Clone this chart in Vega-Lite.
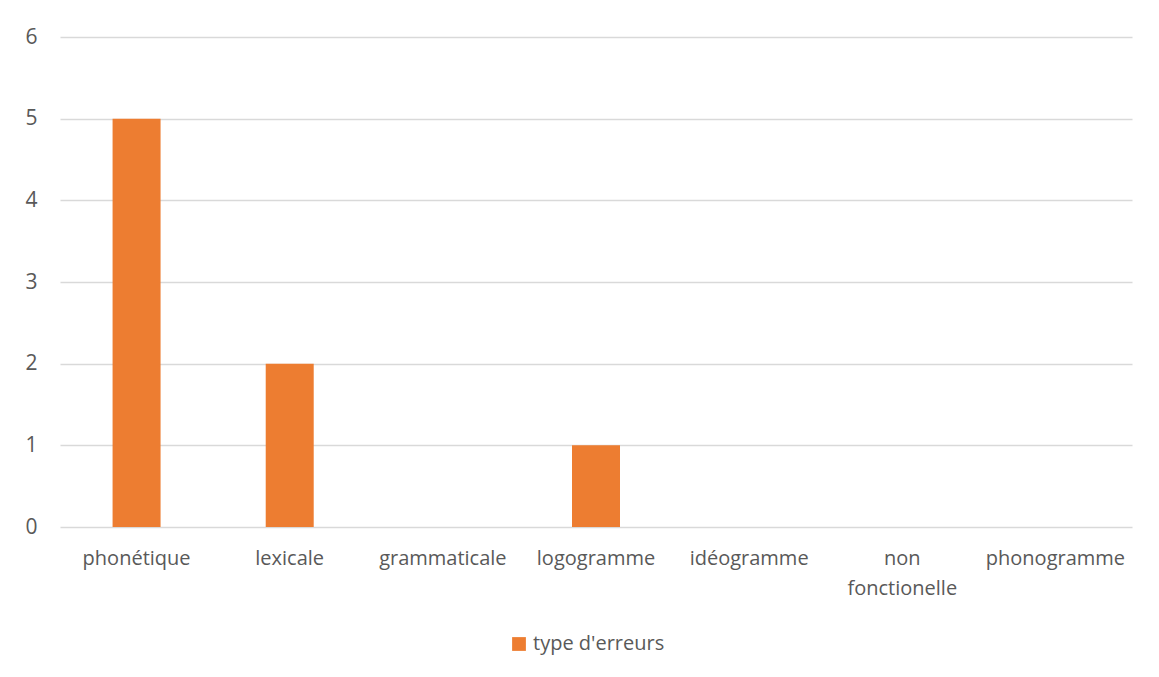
{
  "$schema": "https://vega.github.io/schema/vega-lite/v6.json",
  "autosize": "none",
  "padding": {"left": 60, "top": 37, "right": 27, "bottom": 150},
  "width": 1072,
  "height": 490,
  "background": "#ffffff",
  "data": {
    "values": [
      {"categorie": "phonétique", "nombre": 5, "serie": "type d'erreurs"},
      {"categorie": "lexicale", "nombre": 2, "serie": "type d'erreurs"},
      {"categorie": "grammaticale", "nombre": 0, "serie": "type d'erreurs"},
      {"categorie": "logogramme", "nombre": 1, "serie": "type d'erreurs"},
      {"categorie": "idéogramme", "nombre": 0, "serie": "type d'erreurs"},
      {"categorie": "non fonctionelle", "nombre": 0, "serie": "type d'erreurs"},
      {"categorie": "phonogramme", "nombre": 0, "serie": "type d'erreurs"}
    ]
  },
  "mark": {"type": "bar"},
  "encoding": {
    "x": {
      "field": "categorie",
      "type": "nominal",
      "sort": null,
      "scale": {"paddingInner": 0.6866, "paddingOuter": 0.3433},
      "axis": {
        "title": null,
        "labelAngle": 0,
        "ticks": false,
        "domain": false,
        "labelPadding": 21,
        "labelFontSize": 20,
        "labelLineHeight": 30,
        "labelColor": "#595959",
        "labelFont": "Open Sans",
        "labelExpr": "datum.label == 'non fonctionelle' ? ['non', 'fonctionelle'] : datum.label"
      }
    },
    "y": {
      "field": "nombre",
      "type": "quantitative",
      "scale": {"domain": [0, 6]},
      "axis": {
        "title": null,
        "values": [0, 1, 2, 3, 4, 5, 6],
        "labelOverlap": false,
        "ticks": false,
        "domain": false,
        "labelPadding": 23,
        "labelFontSize": 21,
        "labelColor": "#595959",
        "labelFont": "Open Sans",
        "gridColor": "#d9d9d9",
        "gridWidth": 1.3
      }
    },
    "color": {
      "field": "serie",
      "type": "nominal",
      "scale": {"range": ["#ed7d31"]},
      "legend": {
        "title": null,
        "orient": "none",
        "legendX": 449,
        "legendY": 597,
        "symbolType": "square",
        "symbolSize": 190,
        "symbolStrokeWidth": 0,
        "labelFontSize": 20,
        "labelColor": "#595959",
        "labelFont": "Open Sans",
        "labelOffset": 4
      }
    }
  },
  "config": {
    "view": {"stroke": null}
  }
}
